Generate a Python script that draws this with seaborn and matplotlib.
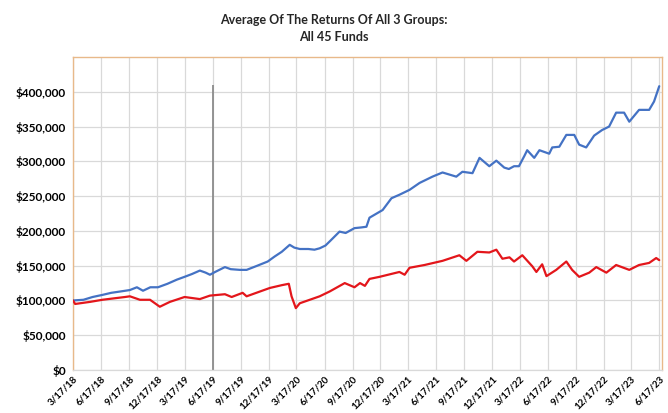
import matplotlib
matplotlib.use("Agg")
import matplotlib.pyplot as plt
import matplotlib.ticker as mticker
import seaborn as sns
import pandas as pd

# values (in $ thousands)
blue_dates = ["2018-03-17", "2018-04-20", "2018-05-20", "2018-06-21", "2018-07-20", "2018-08-20",
              "2018-09-19", "2018-10-12", "2018-11-01", "2018-11-25", "2018-12-20", "2019-01-20",
              "2019-02-20", "2019-03-17", "2019-04-10", "2019-05-06", "2019-05-25", "2019-06-08",
              "2019-06-25", "2019-07-27", "2019-08-15", "2019-09-14", "2019-10-06", "2019-11-10",
              "2019-12-14", "2020-01-05", "2020-01-29", "2020-02-24", "2020-03-10", "2020-03-28",
              "2020-04-25", "2020-05-15", "2020-06-01", "2020-06-20", "2020-07-04", "2020-08-05",
              "2020-08-25", "2020-09-23", "2020-10-15", "2020-11-01", "2020-11-11", "2020-12-24",
              "2021-01-22", "2021-02-17", "2021-03-22", "2021-04-24", "2021-06-05", "2021-07-08",
              "2021-08-22", "2021-09-11", "2021-10-14", "2021-11-06", "2021-12-08", "2021-12-31",
              "2022-01-26", "2022-02-10", "2022-02-27", "2022-03-15", "2022-04-02", "2022-04-11",
              "2022-05-04", "2022-05-21", "2022-06-22", "2022-07-02", "2022-07-25", "2022-08-17",
              "2022-09-12", "2022-09-28", "2022-10-21", "2022-11-16", "2022-12-12", "2023-01-04",
              "2023-01-27", "2023-02-22", "2023-03-11", "2023-04-12", "2023-05-15", "2023-05-31",
              "2023-06-17"]
blue_values = [100, 101, 105, 108, 111, 113,
               115, 119, 114, 119, 119, 124,
               130, 134, 138, 143, 140, 137,
               141, 148, 145, 144, 144, 150,
               156, 163, 170, 180, 176, 174,
               174, 173, 175, 179, 185, 199,
               197, 204, 205, 206, 219, 230,
               247, 252, 259, 269, 278, 284,
               278, 285, 283, 305, 293, 301,
               291, 289, 293, 293, 308, 316,
               305, 316, 311, 320, 321, 338,
               338, 324, 320, 337, 345, 350,
               370, 370, 357, 374, 374, 386,
               408]

red_dates = ["2018-03-17", "2018-03-24", "2018-05-12", "2018-06-21", "2018-09-03", "2018-09-19",
             "2018-10-22", "2018-11-24", "2018-12-26", "2019-01-28", "2019-03-17", "2019-05-06",
             "2019-06-08", "2019-07-27", "2019-08-18", "2019-09-23", "2019-10-06", "2019-12-21",
             "2020-01-29", "2020-02-21", "2020-03-01", "2020-03-15", "2020-03-28", "2020-06-01",
             "2020-07-04", "2020-08-22", "2020-09-23", "2020-10-11", "2020-10-27", "2020-11-11",
             "2020-12-14", "2021-02-17", "2021-03-06", "2021-03-22", "2021-05-10", "2021-07-08",
             "2021-09-01", "2021-09-24", "2021-10-30", "2021-12-08", "2021-12-31", "2022-01-20",
             "2022-02-12", "2022-02-27", "2022-03-26", "2022-04-28", "2022-05-11", "2022-05-30",
             "2022-06-13", "2022-07-15", "2022-08-17", "2022-09-05", "2022-09-28", "2022-10-31",
             "2022-11-23", "2022-12-26", "2023-01-27", "2023-03-11", "2023-04-12", "2023-05-15",
             "2023-06-07", "2023-06-17"]
red_values = [100, 95, 98, 101, 105, 106,
              101, 101, 91, 98, 105, 102,
              107, 109, 105, 111, 106, 118,
              122, 124, 106, 89, 96, 106,
              113, 125, 119, 125, 121, 131,
              134, 141, 137, 147, 151, 157,
              165, 157, 170, 169, 173, 160,
              162, 156, 165, 149, 141, 152,
              135, 144, 156, 144, 134, 140,
              148, 140, 151, 144, 151, 154,
              161, 158]

tick_labels = ["3/17/18", "6/17/18", "9/17/18", "12/17/18", "3/17/19", "6/17/19", "9/17/19",
               "12/17/19", "3/17/20", "6/17/20", "9/17/20", "12/17/20", "3/17/21", "6/17/21",
               "9/17/21", "12/17/21", "3/17/22", "6/17/22", "9/17/22", "12/17/22", "3/17/23",
               "6/17/23"]
y_ticks = [0, 50000, 100000, 150000, 200000, 250000, 300000, 350000, 400000]
marker_date = "2019-06-17"
marker_top = 410000

blue_df = pd.DataFrame({"date": pd.to_datetime(blue_dates), "value": [v * 1000 for v in blue_values]})
red_df = pd.DataFrame({"date": pd.to_datetime(red_dates), "value": [v * 1000 for v in red_values]})

sns.set_theme(style="whitegrid")
plt.rcParams["font.family"] = ["Lato", "DejaVu Sans"]

fig = plt.figure(figsize=(6.68, 4.13), dpi=100)
ax = fig.add_axes([0.1093, 0.104, 0.8817, 0.758])

ax.vlines(pd.Timestamp(marker_date), 0, marker_top, color="#8c8c8c", linewidth=1.3, zorder=2)
sns.lineplot(data=blue_df, x="date", y="value", ax=ax, color="#4472C4", linewidth=1.6, zorder=3)
sns.lineplot(data=red_df, x="date", y="value", ax=ax, color="#E3161B", linewidth=1.6, zorder=3)

ax.set_xlim(pd.Timestamp("2018-03-17"), pd.Timestamp("2023-06-26"))
ax.set_ylim(0, 450000)
ax.set_yticks(y_ticks)
ax.yaxis.set_major_formatter(mticker.FuncFormatter(lambda v, p: f"${v:,.0f}"))
ax.set_xticks(pd.to_datetime(tick_labels, format="%m/%d/%y"))
ax.set_xticklabels(tick_labels, rotation=45, ha="right", rotation_mode="anchor")
ax.set_xlabel("")
ax.set_ylabel("")

ax.grid(True, color="#d9d9d9", linewidth=0.9)
ax.tick_params(axis="y", length=0, pad=5, labelsize=8.5, colors="black")
ax.tick_params(axis="x", length=0, pad=3, labelsize=7, colors="black")
for lab in ax.get_xticklabels() + ax.get_yticklabels():
    lab.set_fontweight("bold")

for side in ["left", "top", "right"]:
    ax.spines[side].set_visible(True)
    ax.spines[side].set_color("#e8b98a")
    ax.spines[side].set_linewidth(1.0)
ax.spines["bottom"].set_color("#d9d9d9")
ax.spines["bottom"].set_linewidth(0.9)

fig.text(0.5, 0.93, "Average Of The Returns Of All 3 Groups:\nAll 45 Funds", ha="center", va="center",
         fontsize=9, fontweight="bold", linespacing=1.5)

fig.savefig("out.png", dpi=100)
